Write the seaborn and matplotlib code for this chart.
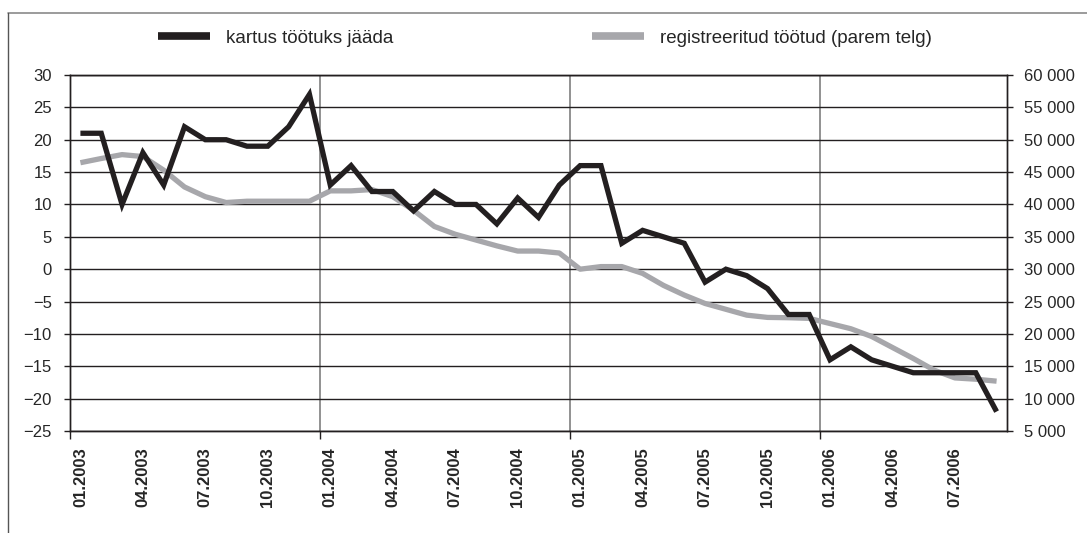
import numpy as np
import pandas as pd
import matplotlib
matplotlib.use("Agg")
import matplotlib.pyplot as plt
import seaborn as sns
from matplotlib import font_manager as fm
from matplotlib.lines import Line2D
from matplotlib.ticker import FuncFormatter

# ---- data -------------------------------------------------------------
months = [f"{m:02d}.{y}" for y in (2003, 2004, 2005, 2006) for m in range(1, 13)][:45]
fear_unemployment = [21, 21, 10, 18, 13, 22, 20, 20, 19, 19, 22, 27,
                     13, 16, 12, 12, 9, 12, 10, 10, 7, 11, 8, 13,
                     16, 16, 4, 6, 5, 4, -2, 0, -1, -3, -7, -7,
                     -14, -12, -14, -15, -16, -16, -16, -16, -22]
registered_unemployed = [46450, 47100, 47700, 47400, 45300, 42700, 41200, 40300, 40500, 40500, 40500, 40500,
                         42100, 42100, 42300, 41200, 39100, 36600, 35400, 34500, 33600, 32800, 32800, 32500,
                         30000, 30400, 30400, 29350, 27500, 26000, 24700, 23800, 22900, 22550, 22500, 22400,
                         21600, 20800, 19600, 17900, 16200, 14400, 13200, 13000, 12700]
series_names = ["kartus töötuks jääda", "registreeritud töötud (parem telg)"]
left_ticks = list(range(-25, 31, 5))
right_ticks = list(range(5000, 60001, 5000))

df = pd.DataFrame({"pos": np.arange(len(months)), "month": months,
                   "fear": fear_unemployment, "reg": registered_unemployed})

# ---- style ------------------------------------------------------------
sns.set_theme(style="white")
plt.rcParams["font.family"] = ["Liberation Sans", "DejaVu Sans"]

def has_font(name):
    try:
        fm.findfont(fm.FontProperties(family=name), fallback_to_default=False)
        return True
    except Exception:
        return False

if has_font("Liberation Sans Narrow"):
    leg_prop = fm.FontProperties(family="Liberation Sans Narrow", size=15.5)
else:
    leg_prop = fm.FontProperties(family="Liberation Sans", size=13.5)

BLACK = "#231f20"
GRAY = "#a7a7ab"
W, H = 1087, 533
fig = plt.figure(figsize=(W / 100, H / 100), dpi=100)
ax = fig.add_axes([70 / W, 1 - 431 / H, 937 / W, 356 / H])
ax2 = ax.twinx()
ax.set_zorder(ax2.get_zorder() + 1)
ax.patch.set_visible(False)

# gray series on right axis (below), black series on left axis (above)
sns.lineplot(data=df, x="pos", y="reg", ax=ax2, color=GRAY, lw=3.8, legend=False,
             solid_capstyle="butt")
sns.lineplot(data=df, x="pos", y="fear", ax=ax, color=BLACK, lw=3.8, legend=False,
             solid_capstyle="butt", solid_joinstyle="miter")

n = len(months)
ax.set_xlim(-0.5, n - 0.5)
ax.set_ylim(-25, 30)
ax2.set_ylim(5000, 60000)
ax.set_yticks(left_ticks)
ax2.set_yticks(right_ticks)
ax2.yaxis.set_major_formatter(FuncFormatter(lambda v, p: f"{int(v):,}".replace(",", " ")))

# gridlines drawn on lower axis so they stay behind the series
ax2.yaxis.grid(True, color=BLACK, lw=1.0)
year_bounds = [i - 0.5 for i in range(0, n, 12)]
for b in year_bounds[1:]:
    ax2.axvline(b, color="#7f7f7f", lw=1.2, zorder=0)

# x ticks: marks at year boundaries, labels every 3 months
ax.set_xticks(year_bounds)
ax.set_xticklabels([""] * len(year_bounds))
lab_pos = list(range(0, n, 3))
ax.set_xticks(lab_pos, minor=True)
ax.set_xticklabels([months[i] for i in lab_pos], minor=True, rotation=90,
                   fontweight="bold", fontsize=12)
ax.tick_params(axis="x", which="major", direction="out", length=6, width=1, color=BLACK, bottom=True)
ax.tick_params(axis="x", which="minor", length=0, pad=12, bottom=True)
ax.tick_params(axis="y", direction="out", length=4, width=1, color=BLACK, labelsize=12, pad=9, left=True)
ax2.tick_params(axis="y", direction="out", length=4, width=1, color=BLACK, labelsize=12, pad=8, right=True)
ax.set_xlabel("")
ax.set_ylabel("")
ax2.set_ylabel("")
for a in (ax, ax2):
    for s in a.spines.values():
        s.set_color(BLACK)
        s.set_linewidth(1.0)

# legend
handles = [Line2D([], [], color=BLACK, lw=5.5, solid_capstyle="butt"),
           Line2D([], [], color=GRAY, lw=5.5, solid_capstyle="butt")]
fig.legend(handles, series_names, loc="center left", bbox_to_anchor=(158 / W, 1 - 38 / H),
           ncol=2, frameon=False, prop=leg_prop, handlelength=2.77, handletextpad=0.85,
           columnspacing=10.6, borderpad=0, borderaxespad=0)

# outer frame (top and left edges)
fig.add_artist(Line2D([8 / W, 1], [1 - 13 / H, 1 - 13 / H], transform=fig.transFigure, color="#8a8a8a", lw=1.2))
fig.add_artist(Line2D([8 / W, 8 / W], [0, 1 - 13 / H], transform=fig.transFigure, color="#555555", lw=1.0))

fig.savefig("out.png", dpi=100, facecolor="white")
